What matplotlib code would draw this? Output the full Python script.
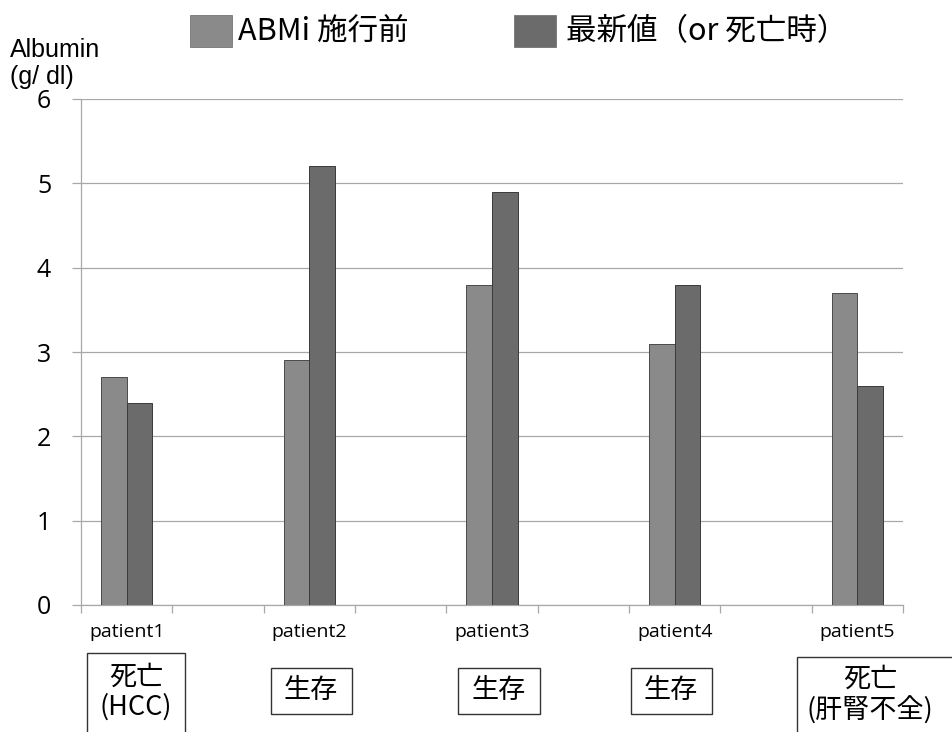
import numpy as np
import matplotlib.pyplot as plt
from matplotlib.patches import Rectangle

plt.rcParams['font.family'] = ['Noto Sans CJK JP', 'DejaVu Sans']

patients = ["patient1", "patient2", "patient3", "patient4", "patient5"]
before = [2.7, 2.9, 3.8, 3.1, 3.7]
latest = [2.4, 5.2, 4.9, 3.8, 2.6]
outcomes = ["死亡\n(HCC)", "生存", "生存", "生存", "死亡\n(肝腎不全)"]
series_names = ["ABMi 施行前", "最新値（or 死亡時）"]
yticks = [0, 1, 2, 3, 4, 5, 6]

c_before = "#8a8a8a"
c_latest = "#6b6b6b"
grid_c = "#a8a8a8"

fig = plt.figure(figsize=(9.52, 7.32), dpi=100)
ax = fig.add_axes([81/952, 127/732, 822/952, 506/732])

# one patient every other slot, empty slot between them
x = np.arange(len(patients)) * 2
w = 0.28
ax.bar(x - w/2, before, w, color=c_before, edgecolor="#4a4a4a", linewidth=0.7, zorder=3)
ax.bar(x + w/2, latest, w, color=c_latest, edgecolor="#3a3a3a", linewidth=0.7, zorder=3)

ax.set_xlim(-0.5, 2*len(patients) - 1.5)
ax.set_ylim(0, 6)
ax.set_yticks(yticks)
ax.set_yticklabels([str(v) for v in yticks], fontsize=18, family=["Open Sans"])
ax.yaxis.grid(True, color=grid_c, linewidth=0.9, zorder=0)
ax.tick_params(axis="y", length=6.5, color=grid_c, width=0.9, pad=15)

ax.set_xticks(x)
ax.set_xticklabels(patients, fontsize=14, family=["Open Sans"])
ax.set_xticks(np.arange(-0.5, 2*len(patients) - 1, 1.0), minor=True)
ax.tick_params(axis="x", which="major", length=0, pad=13)
ax.tick_params(axis="x", which="minor", length=6, color=grid_c, width=0.9)

for s in ["top", "right"]:
    ax.spines[s].set_visible(False)
ax.spines["left"].set_color(grid_c)
ax.spines["bottom"].set_color(grid_c)
ax.spines["left"].set_linewidth(0.9)
ax.spines["bottom"].set_linewidth(0.9)

unit_font = ["Liberation Sans Narrow", "Liberation Sans"]
fig.text(10/952, 1 - 57/732, "Albumin", fontsize=18, family=unit_font, va="baseline")
fig.text(10/952, 1 - 84/732, "(g/ dl)", fontsize=18, family=unit_font, va="baseline")

# legend across the top
def fx(px):
    return px / 952

def fy(py):
    return 1 - py / 732

for sx, tx, col, name in [(190, 238, c_before, series_names[0]),
                          (514, 566, c_latest, series_names[1])]:
    fig.patches.append(Rectangle((fx(sx), fy(47)), 42/952, 32/732,
                                 transform=fig.transFigure, facecolor=col,
                                 edgecolor="#666666", linewidth=0.5))
    fig.text(fx(tx), fy(32), name, fontsize=22, va="center")

# outcome boxes under each patient
boxes = [(87, 653, 98, 100), (271, 668, 81, 46), (458, 668, 82, 46),
         (631, 668, 81, 46), (797, 657, 170, 100)]
centers = [(136, 692), (311, 691), (499, 691), (671, 691), (870, 695)]
for (bx, by, bw, bh), (cx, cy), txt in zip(boxes, centers, outcomes):
    fig.patches.append(Rectangle((fx(bx), fy(by + bh)), bw/952, bh/732,
                                 transform=fig.transFigure, facecolor="white",
                                 edgecolor="#333333", linewidth=1.0))
    fig.text(fx(cx), fy(cy), txt, fontsize=19.5, ha="center", va="center",
             linespacing=1.15)

fig.savefig("out.png", dpi=100)
